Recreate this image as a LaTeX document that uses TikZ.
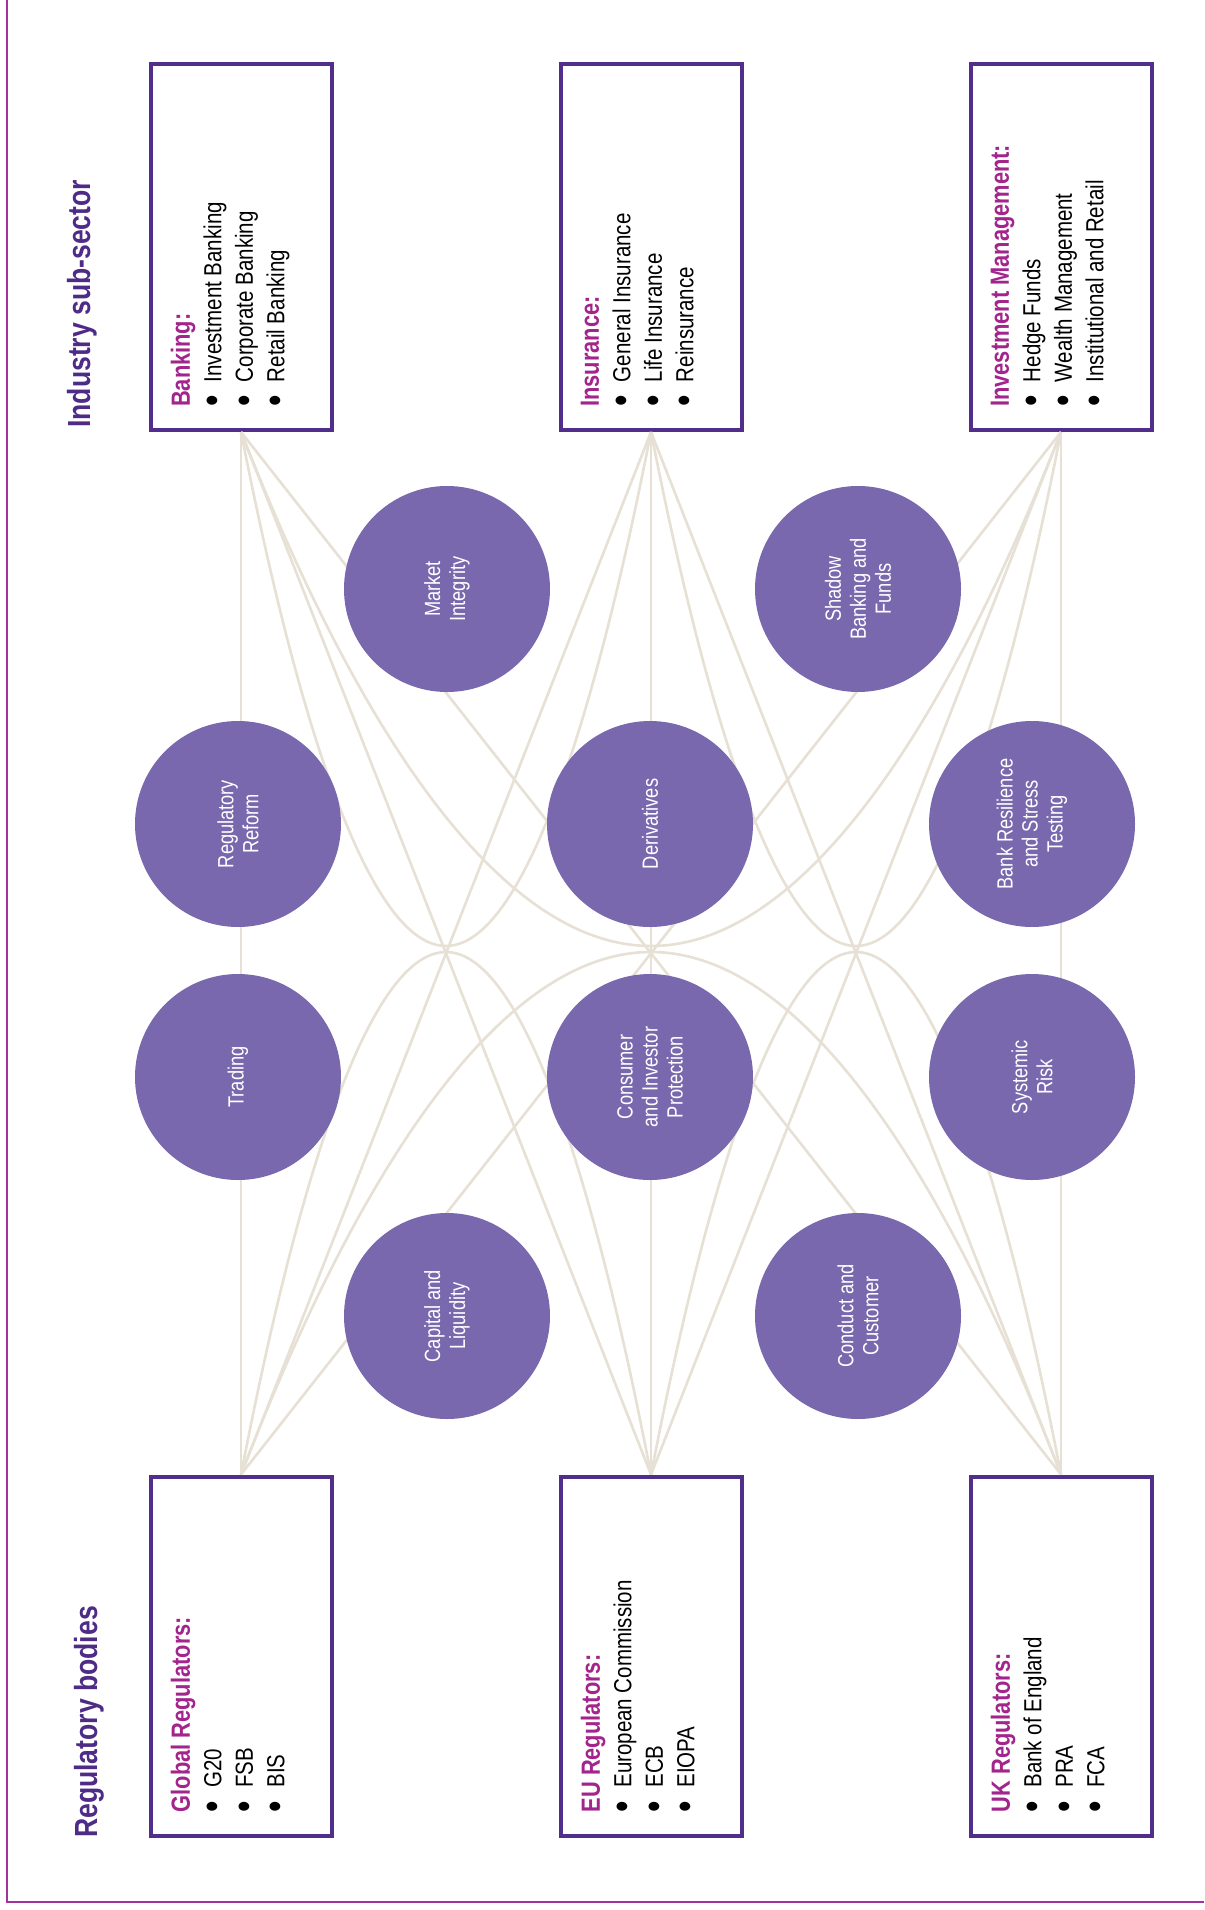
\documentclass[tikz,border=0pt]{standalone}
\usepackage{fontspec}
\setmainfont{Liberation Sans}[FakeStretch=0.83]
\usetikzlibrary{positioning}

\definecolor{boxpurple}{RGB}{82,46,140}
\definecolor{headmag}{RGB}{162,36,140}
\definecolor{titlepurple}{RGB}{78,43,135}
\definecolor{topicfill}{RGB}{121,104,173}
\definecolor{linkbeige}{RGB}{231,224,212}
\definecolor{framemag}{RGB}{165,50,155}

\tikzset{
  sector/.style={draw=boxpurple, line width=4pt, fill=white, minimum width=181pt, minimum height=366pt, inner sep=0pt},
  sectortext/.style={rotate=90, anchor=north west, inner sep=0pt, align=left, font=\fontsize{24.7}{31.5}\selectfont},
  topic/.style={circle, fill=topicfill, minimum size=206pt, inner sep=0pt, text=white, rotate=90, align=center, font=\fontsize{22}{25}\selectfont},
  heading/.style={rotate=90, anchor=base west, inner sep=0pt, text=titlepurple, font=\fontsize{32}{38}\selectfont\bfseries},
  link/.style={draw=linkbeige, line width=2.6pt}
}
\newcommand{\hd}[1]{{\fontsize{26.3}{31.5}\selectfont\bfseries\color{headmag}#1}}
\newcommand{\itm}[1]{\makebox[1em][l]{\raisebox{-0.18em}{\scalebox{1.6}{\textbullet}}}#1}

\begin{document}
\begin{tikzpicture}[x=1pt, y=-1pt, node distance=410pt, on grid]
  \useasboundingbox (0,0) rectangle (1204,1910);
  \fill[white] (0,0) rectangle (1204,1910);
  \draw[framemag, line width=2pt] (7,0) -- (7,1902) -- (1204,1902);

  % sub-sector boxes
  \node[sector] (bank) at (241,247) {};
  \node[sector] (insur) [right=of bank] {};
  \node[sector] (invm) [right=of insur] {};
  % regulator boxes
  \node[sector, minimum height=359pt] (glob) [below=1409pt of bank] {};
  \node[sector, minimum height=359pt] (eureg) [right=of glob] {};
  \node[sector, minimum height=359pt] (ukreg) [right=of eureg] {};

  % bend points
  \coordinate (u12) at (446,946);
  \coordinate (u13) at (651,946);
  \coordinate (u23) at (856,946);
  \coordinate (n12) at (446,952);
  \coordinate (n13) at (651,952);
  \coordinate (n23) at (856,952);

  % connectors
  \foreach \t in {bank,insur,invm}
    \foreach \b in {glob,eureg,ukreg}
      \draw[link] (\t.south) -- (\b.north);
  \draw[link] (bank.south) parabola bend (u12) (insur.south);
  \draw[link] (bank.south) parabola bend (u13) (invm.south);
  \draw[link] (insur.south) parabola bend (u23) (invm.south);
  \draw[link] (glob.north) parabola bend (n12) (eureg.north);
  \draw[link] (glob.north) parabola bend (n13) (ukreg.north);
  \draw[link] (eureg.north) parabola bend (n23) (ukreg.north);

  % topics
  \node[topic] (mktint) at (447,589) {Market\\Integrity};
  \node[topic] (shadow) at (858,589) {Shadow\\Banking and\\Funds};
  \node[topic] (regref) at (238,824) {Regulatory\\Reform};
  \node[topic] (deriv) at (650,824) {Derivatives};
  \node[topic] (bankres) at (1032,824) {Bank Resilience\\and Stress\\Testing};
  \node[topic] (trading) at (238,1077) {Trading};
  \node[topic] (consum) at (650,1077) {Consumer\\and Investor\\Protection};
  \node[topic] (systemic) at (1032,1077) {Systemic\\Risk};
  \node[topic] (capliq) at (447,1316) {Capital and\\Liquidity};
  \node[topic] (conduct) at (858,1316) {Conduct and\\Customer};

  % box texts
  \node[sectortext] (banktxt) at ([xshift=22pt, yshift=25pt]bank.south west)
    {\hd{Banking:}\\\itm{Investment Banking}\\\itm{Corporate Banking}\\\itm{Retail Banking}};
  \node[sectortext] (insurtxt) at ([xshift=22pt, yshift=25pt]insur.south west)
    {\hd{Insurance:}\\\itm{General Insurance}\\\itm{Life Insurance}\\\itm{Reinsurance}};
  \node[sectortext] (invmtxt) at ([xshift=22pt, yshift=25pt]invm.south west)
    {\hd{Investment Management:}\\\itm{Hedge Funds}\\\itm{Wealth Management}\\\itm{Institutional and Retail}};
  \node[sectortext] (globtxt) at ([xshift=22pt, yshift=25pt]glob.south west)
    {\hd{Global Regulators:}\\\itm{G20}\\\itm{FSB}\\\itm{BIS}};
  \node[sectortext] (eutxt) at ([xshift=22pt, yshift=25pt]eureg.south west)
    {\hd{EU Regulators:}\\\itm{European Commission}\\\itm{ECB}\\\itm{EIOPA}};
  \node[sectortext] (uktxt) at ([xshift=22pt, yshift=25pt]ukreg.south west)
    {\hd{UK Regulators:}\\\itm{Bank of England}\\\itm{PRA}\\\itm{FCA}};

  % titles
  \node[heading] (subsec) at (90,428) {Industry sub-sector};
  \node[heading] (regbod) at (97,1838) {Regulatory bodies};
\end{tikzpicture}
\end{document}
